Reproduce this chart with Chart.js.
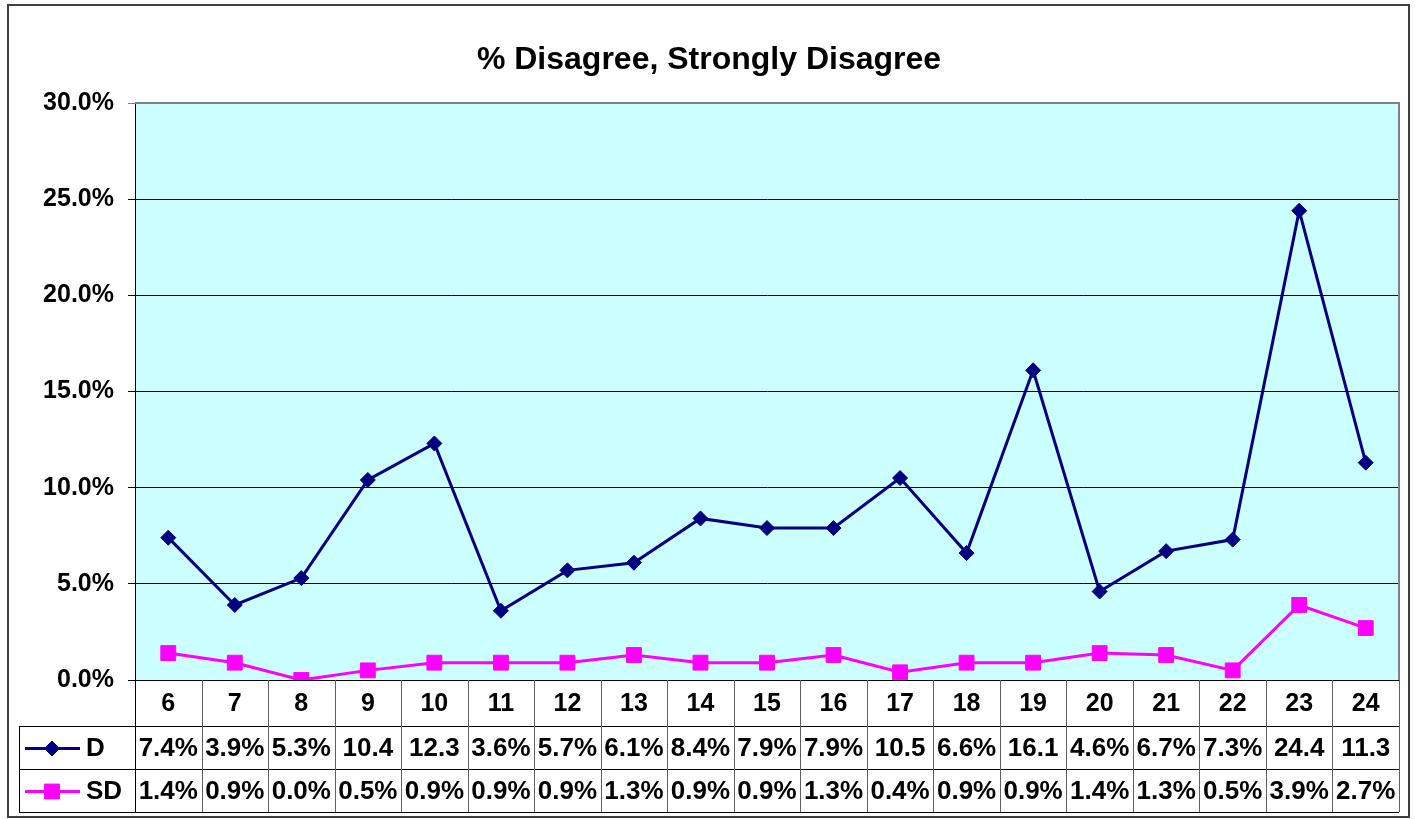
<!DOCTYPE html>
<html>
<head>
<meta charset="utf-8">
<script src="https://cdn.jsdelivr.net/npm/chart.js@4"></script>
<style>
  body { margin: 0; background: #fff; }
  #wrap { width: 1415px; height: 819px; }
</style>
</head>
<body>
<div id="wrap"><canvas id="chart" width="1415" height="819"></canvas></div>
<script>
// data
const categories = ['6', '7', '8', '9', '10', '11', '12', '13', '14', '15', '16', '17', '18', '19', '20', '21', '22', '23', '24'];
const dValues = [7.4, 3.9, 5.3, 10.4, 12.3, 3.6, 5.7, 6.1, 8.4, 7.9, 7.9, 10.5, 6.6, 16.1, 4.6, 6.7, 7.3, 24.4, 11.3];
const sdValues = [1.4, 0.9, 0.0, 0.5, 0.9, 0.9, 0.9, 1.3, 0.9, 0.9, 1.3, 0.4, 0.9, 0.9, 1.4, 1.3, 0.5, 3.9, 2.7];
const yTicks = [0, 5, 10, 15, 20, 25, 30];

const FONT = '"Liberation Sans", Arial, sans-serif';
const NAVY = '#000080';
const MAGENTA = '#FF00FF';

// excel cuts the % off when the cell is too narrow
function cellText(v) {
  return v >= 10 ? v.toFixed(1) : v.toFixed(1) + '%';
}

const series = [
  { label: 'D', values: dValues, color: NAVY, style: 'rectRot', radius: 7.5 },
  { label: 'SD', values: sdValues, color: MAGENTA, style: 'rect', radius: 10.5 }
];

// background, frame, title and the data table under the plot
const tablePlugin = {
  id: 'tablePlugin',
  beforeDraw(chart) {
    const ctx = chart.ctx;
    const a = chart.chartArea;
    ctx.save();
    ctx.fillStyle = '#fff';
    ctx.fillRect(0, 0, chart.width, chart.height);
    ctx.fillStyle = '#CCFFFF';
    ctx.fillRect(a.left, a.top, a.right - a.left, a.bottom - a.top);
    ctx.restore();
  },
  afterDraw(chart) {
    const ctx = chart.ctx;
    const a = chart.chartArea;
    const x = chart.scales.x;
    const colW = (a.right - a.left) / categories.length;
    const rowCat = a.bottom + 46;
    const rowD = rowCat + 43;
    const rowSD = rowD + 43;
    const tableLeft = 19;

    ctx.save();
    // plot frame: grey top/right
    ctx.strokeStyle = '#808080';
    ctx.lineWidth = 2;
    ctx.beginPath();
    ctx.moveTo(a.left, a.top);
    ctx.lineTo(a.right, a.top);
    ctx.lineTo(a.right, a.bottom);
    ctx.stroke();

    // outer chart border
    ctx.strokeStyle = '#404040';
    ctx.lineWidth = 2;
    ctx.strokeRect(8, 5, 1401, 812);

    // title
    ctx.fillStyle = '#000';
    ctx.font = 'bold 32px ' + FONT;
    ctx.textAlign = 'center';
    ctx.textBaseline = 'middle';
    ctx.fillText('% Disagree, Strongly Disagree', 709, 60);

    // table lines
    ctx.lineWidth = 1;
    ctx.strokeStyle = '#000';
    ctx.beginPath();
    ctx.moveTo(a.left, a.bottom + 0.5);
    ctx.lineTo(a.right, a.bottom + 0.5);
    [rowCat, rowD, rowSD].forEach(y => {
      ctx.moveTo(tableLeft, y + 0.5);
      ctx.lineTo(a.right, y + 0.5);
    });
    ctx.moveTo(tableLeft + 0.5, rowCat);
    ctx.lineTo(tableLeft + 0.5, rowSD);
    ctx.moveTo(a.left + 0.5, a.bottom);
    ctx.lineTo(a.left + 0.5, rowSD);
    ctx.stroke();

    ctx.strokeStyle = '#606060';
    ctx.beginPath();
    for (let i = 1; i <= categories.length; i++) {
      const px = Math.round(a.left + i * colW) + 0.5;
      ctx.moveTo(px, a.bottom);
      ctx.lineTo(px, rowSD);
    }
    ctx.stroke();

    // category row
    ctx.fillStyle = '#000';
    ctx.font = 'bold 25px ' + FONT;
    ctx.textAlign = 'center';
    ctx.textBaseline = 'middle';
    categories.forEach((c, i) => {
      ctx.fillText(c, x.getPixelForValue(i), (a.bottom + rowCat) / 2 + 1);
    });

    // value rows with legend keys
    const rows = [[rowCat, rowD], [rowD, rowSD]];
    series.forEach((s, k) => {
      const yc = (rows[k][0] + rows[k][1]) / 2 + 1;
      ctx.strokeStyle = s.color;
      ctx.lineWidth = 3;
      ctx.beginPath();
      ctx.moveTo(25, yc);
      ctx.lineTo(80, yc);
      ctx.stroke();
      ctx.fillStyle = s.color;
      ctx.lineWidth = 1;
      Chart.helpers.drawPoint(ctx, { pointStyle: s.style, radius: s.radius, borderWidth: 1 }, 52, yc);

      ctx.fillStyle = '#000';
      ctx.font = 'bold 26px ' + FONT;
      ctx.textAlign = 'left';
      ctx.fillText(s.label, 86, yc);
      ctx.textAlign = 'center';
      s.values.forEach((v, i) => {
        ctx.fillText(cellText(v), x.getPixelForValue(i), yc);
      });
    });
    ctx.restore();
  }
};

new Chart(document.getElementById('chart'), {
  type: 'line',
  data: {
    labels: categories,
    datasets: series.map(s => ({
      label: s.label,
      data: s.values,
      borderColor: s.color,
      backgroundColor: s.color,
      borderWidth: 3,
      pointStyle: s.style,
      pointRadius: s.radius,
      pointHoverRadius: s.radius,
      pointBorderWidth: 1,
      tension: 0
    }))
  },
  options: {
    responsive: false,
    animation: false,
    events: [],
    layout: { padding: { left: 0, right: 16, top: 103, bottom: 139 } },
    plugins: {
      legend: { display: false },
      title: { display: false },
      tooltip: { enabled: false }
    },
    scales: {
      x: {
        type: 'category',
        offset: true,
        display: false
      },
      y: {
        min: 0,
        max: 30,
        afterFit(scale) { scale.width = 135; },
        afterBuildTicks(scale) { scale.ticks = yTicks.map(v => ({ value: v })); },
        border: { display: true, color: '#000', width: 1 },
        grid: {
          color: ctx => ctx.tick && ctx.tick.value === 30 ? '#808080' : '#000',
          lineWidth: 1,
          drawTicks: true,
          tickLength: 7
        },
        ticks: {
          padding: 14,
          color: '#000',
          font: { family: FONT, size: 25, weight: 'bold' },
          callback: v => v.toFixed(1) + '%'
        }
      }
    }
  },
  plugins: [tablePlugin]
});
</script>
</body>
</html>
